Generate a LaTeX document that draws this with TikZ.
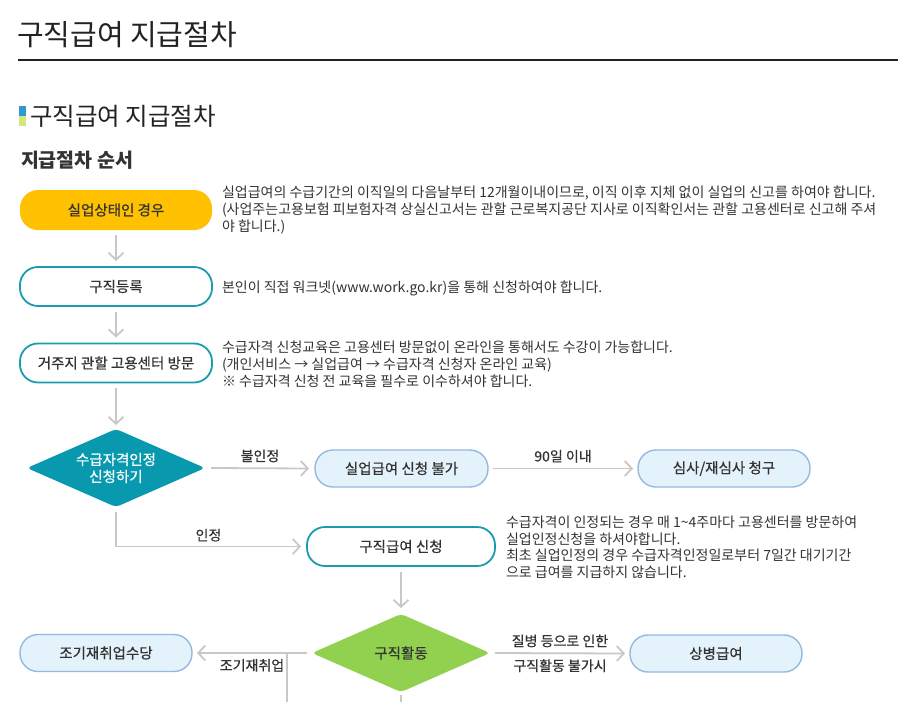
\documentclass[tikz,border=0pt]{standalone}
\usepackage{fontspec}
\setmainfont{Noto Sans CJK KR}
\newfontfamily\medfont{Noto Sans CJK KR}[FakeBold=0.6]
\usetikzlibrary{arrows.meta,shapes.geometric}
\definecolor{txt}{HTML}{333333}
\definecolor{ttl}{HTML}{222222}
\definecolor{yelbox}{HTML}{FFC000}
\definecolor{tealbd}{HTML}{1A9BAF}
\definecolor{tealfill}{HTML}{0899AE}
\definecolor{bluebd}{HTML}{95B8DE}
\definecolor{bluefill}{HTML}{E4F2FB}
\definecolor{grn}{HTML}{92D050}
\definecolor{lgray}{HTML}{C8C8C8}
\definecolor{mkblue}{HTML}{3399CC}
\definecolor{mkgreen}{HTML}{D4E77A}
\begin{document}
\begin{tikzpicture}[x=1pt,y=-1pt,
  every node/.style={outer sep=0pt, text=txt},
  boxtext/.style={font=\medfont\fontsize{14.5}{17}\selectfont},
  pill/.style={boxtext, minimum width=192pt, minimum height=39pt, inner sep=0pt, rounded corners=18pt},
  pilly/.style={pill, fill=yelbox, minimum height=40pt},
  pillt/.style={pill, draw=tealbd, line width=1.8pt, fill=white},
  pillb/.style={pill, draw=bluebd, line width=1.4pt, fill=bluefill, minimum width=173pt, minimum height=37pt},
  dia/.style={diamond, aspect=2.28, boxtext, inner sep=0pt, minimum width=178pt, minimum height=78pt, rounded corners=4pt, align=center},
  desc/.style={font=\fontsize{14}{17}\selectfont, align=left, anchor=west, inner sep=0pt},
  lab/.style={font=\medfont\fontsize{14}{16}\selectfont, inner sep=0pt},
  link/.style={draw=lgray, line width=1.8pt},
  conn/.style={link, -{Straight Barb[length=7pt,width=15pt]}}
]
\useasboundingbox (0,0) rectangle (912,702);

% titles
\node[anchor=west, inner sep=0pt, text=ttl, font=\fontsize{29}{32}\selectfont] (title) at (17,35) {구직급여 지급절차};
\coordinate (r1) at (18,60);
\coordinate (r2) at (898,60);
\draw[ttl, line width=1.2pt] (r1) -- (r2);
\fill[mkblue] (19,106) rectangle (25.5,115.5);
\fill[mkgreen] (19,115.5) rectangle (25.5,125.5);
\node[anchor=west, inner sep=0pt, text=ttl, font=\fontsize{24.5}{27}\selectfont] (head) at (30,116) {구직급여 지급절차};
\node[anchor=west, inner sep=0pt, text=txt, font=\fontsize{19.5}{22}\selectfont\bfseries] (sub) at (21,160) {지급절차 순서};

% boxes
\node[pilly] (b1) at (116,210) {실업상태인 경우};
\node[pillt] (b2) at (116,286.5) {구직등록};
\node[pillt] (b3) at (116,363) {거주지 관할 고용센터 방문};
\node[dia, fill=tealfill, text=white] (d1) at (116,468) {수급자격인정\\신청하기};
\node[pillb] (b4) at (401.5,468.5) {실업급여 신청 불가};
\node[pillb, minimum width=172pt] (b5) at (724,468.5) {심사/재심사 청구};
\node[pillt, minimum width=188pt] (b6) at (401,546.5) {구직급여 신청};
\node[dia, fill=grn] (d2) at (401,653) {구직활동};
\node[pillb, minimum width=172pt] (b7) at (716,653.5) {상병급여};
\node[pillb, minimum width=172pt] (b8) at (106,653) {조기재취업수당};

% descriptions
\node[desc] (t1) at (222,210.5) {실업급여의 수급기간의 이직일의 다음날부터 12개월이내이므로, 이직 이후 지체 없이 실업의 신고를 하여야 합니다.\\(사업주는고용보험 피보험자격 상실신고서는 관할 근로복지공단 지사로 이직확인서는 관할 고용센터로 신고해 주셔\\야 합니다.)};
\node[desc] (t2) at (222,288) {본인이 직접 워크넷(www.work.go.kr)을 통해 신청하여야 합니다.};
\node[desc] (t3) at (222,364) {수급자격 신청교육은 고용센터 방문없이 온라인을 통해서도 수강이 가능합니다.\\(개인서비스 → 실업급여 → 수급자격 신청자 온라인 교육)\\※ 수급자격 신청 전 교육을 필수로 이수하셔야 합니다.};
\node[desc, font=\fontsize{14}{16.5}\selectfont] (t4) at (506,547.5) {수급자격이 인정되는 경우 매 1\textasciitilde4주마다 고용센터를 방문하여\\실업인정신청을 하셔야합니다.\\최초 실업인정의 경우 수급자격인정일로부터 7일간 대기기간\\으로 급여를 지급하지 않습니다.};

% connectors
\draw[conn] ([yshift=-5pt]b1.south) -- ([yshift=6pt]b2.north);
\draw[conn] ([yshift=-6pt]b2.south) -- ([yshift=6pt]b3.north);
\draw[conn] ([yshift=-5pt]b3.south) -- ([yshift=4pt]d1.north);
\draw[conn] ([xshift=6pt]d1.east) -- node[lab, midway, above=6pt] {불인정} ([xshift=-6pt]b4.west);
\draw[conn] ([xshift=5pt]b4.east) -- node[lab, midway, above=6pt] {90일 이내} ([xshift=-5pt]b5.west);
\draw[conn] ([yshift=-5pt]d1.south) |- node[lab, pos=0.75, above=5pt] {인정} ([xshift=-6pt]b6.west);
\draw[conn] ([yshift=-6pt]b6.south) -- ([yshift=6pt]d2.north);
\draw[conn] ([xshift=-5pt]d2.west) -- node[lab, midway, below=6pt] {조기재취업} ([xshift=5pt]b8.east);
\draw[conn] ([xshift=5pt]d2.east) -- node[lab, midway, above=6pt] {질병 등으로 인한} node[lab, midway, below=6pt] {구직활동 불가시} ([xshift=-5pt]b7.west);
\coordinate (e1) at (287,702);
\coordinate (e2) at (401,702);
\draw[link] (d2.west -| e1) -- (e1);
\draw[link] ([yshift=-3pt]d2.south) -- (e2);
\end{tikzpicture}
\end{document}
